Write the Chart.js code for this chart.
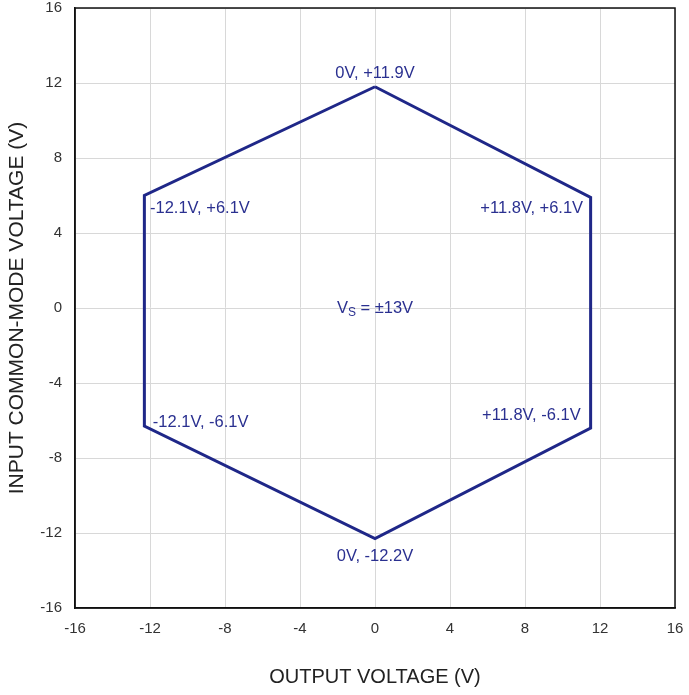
<!DOCTYPE html>
<html>
<head>
<meta charset="utf-8">
<script src="https://cdn.jsdelivr.net/npm/chart.js@4/dist/chart.umd.min.js"></script>
<style>
  html, body { margin: 0; padding: 0; background: #fff; }
  #wrap { width: 689px; height: 695px; }
</style>
</head>
<body>
<div id="wrap"><canvas id="chart" width="689" height="695"></canvas></div>
<script>
// hexagon corners (output voltage, input common-mode voltage)
const outputV = [0, 11.5, 11.5, 0, -12.3, -12.3, 0]
const inputCM = [11.8, 5.9, -6.4, -12.3, -6.3, 6.0, 11.8]

const tickValues = [-16, -12, -8, -4, 0, 4, 8, 12, 16]

// corner notes: text and where they sit (in volts)
const noteText = ['0V, +11.9V', '-12.1V, +6.1V', '+11.8V, +6.1V', '-12.1V, -6.1V', '+11.8V, -6.1V', '0V, -12.2V']
const noteX = [0, -12.0, 11.1, -11.85, 10.97, 0]
const noteY = [12.5, 5.3, 5.3, -6.08, -5.73, -13.26]
const noteAlign = ['center', 'left', 'right', 'left', 'right', 'center']

const blue = '#1f2788'
const noteBlue = '#2a3090'
const fontFamily = '"Liberation Sans", Arial, sans-serif'

const frame = {
    id: 'frame',
    beforeDatasetsDraw(chart) {
        const { ctx, chartArea: a } = chart
        ctx.save()
        ctx.strokeStyle = '#111'
        ctx.lineWidth = 1.5
        ctx.strokeRect(a.left, a.top, a.right - a.left, a.bottom - a.top)
        ctx.restore()
    }
}

const notes = {
    id: 'notes',
    afterDatasetsDraw(chart) {
        const ctx = chart.ctx
        const xs = chart.scales.x
        const ys = chart.scales.y
        ctx.save()
        ctx.fillStyle = noteBlue
        ctx.font = '16.5px ' + fontFamily
        ctx.textBaseline = 'middle'
        noteText.forEach((t, i) => {
            ctx.textAlign = noteAlign[i]
            ctx.fillText(t, xs.getPixelForValue(noteX[i]), ys.getPixelForValue(noteY[i]))
        })

        // V_S = ±13V in the middle
        const cx = xs.getPixelForValue(0)
        const cy = ys.getPixelForValue(0)
        const big = '16.5px ' + fontFamily
        const small = '12px ' + fontFamily
        ctx.font = big
        const wV = ctx.measureText('V').width
        const wRest = ctx.measureText(' = ±13V').width
        ctx.font = small
        const wS = ctx.measureText('S').width
        let x = cx - (wV + wS + wRest) / 2
        ctx.textAlign = 'left'
        ctx.font = big
        ctx.fillText('V', x, cy)
        x += wV
        ctx.font = small
        ctx.fillText('S', x, cy + 5)
        x += wS
        ctx.font = big
        ctx.fillText(' = ±13V', x, cy)
        ctx.restore()
    }
}

// keep tick label overflow from shrinking the plot area
function noPad(s) {
    s.paddingTop = 0
    s.paddingBottom = 0
    s.paddingLeft = 0
    s.paddingRight = 0
}

const points = outputV.map((v, i) => ({ x: v, y: inputCM[i] }))

new Chart(document.getElementById('chart'), {
    type: 'scatter',
    data: {
        datasets: [{
            data: points,
            showLine: true,
            borderColor: blue,
            borderWidth: 3,
            pointRadius: 0,
            fill: false,
            tension: 0
        }]
    },
    options: {
        responsive: false,
        animation: false,
        layout: { padding: { left: 0, right: 14, top: 8, bottom: 0 } },
        plugins: {
            legend: { display: false },
            tooltip: { enabled: false }
        },
        scales: {
            x: {
                type: 'linear',
                min: -16,
                max: 16,
                afterBuildTicks: s => { s.ticks = tickValues.map(v => ({ value: v })) },
                afterFit: s => { s.height = 87; noPad(s) },
                grid: { color: '#d8d8d8', lineWidth: 1, drawTicks: false },
                border: { color: '#111', width: 1.5 },
                ticks: {
                    padding: 12,
                    color: '#333',
                    font: { family: fontFamily, size: 15 }
                },
                title: {
                    display: true,
                    text: 'OUTPUT VOLTAGE (V)',
                    color: '#222',
                    padding: { top: 0, bottom: 6 },
                    font: { family: fontFamily, size: 20 }
                }
            },
            y: {
                type: 'linear',
                min: -16,
                max: 16,
                afterBuildTicks: s => { s.ticks = tickValues.map(v => ({ value: v })) },
                afterFit: s => { s.width = 75; noPad(s) },
                grid: { color: '#d8d8d8', lineWidth: 1, drawTicks: false },
                border: { color: '#111', width: 1.5 },
                ticks: {
                    padding: 13,
                    color: '#333',
                    font: { family: fontFamily, size: 15 }
                },
                title: {
                    display: true,
                    text: 'INPUT COMMON-MODE VOLTAGE (V)',
                    color: '#222',
                    padding: { top: 5, bottom: 0 },
                    font: { family: fontFamily, size: 21 }
                }
            }
        }
    },
    plugins: [frame, notes]
})
</script>
</body>
</html>
